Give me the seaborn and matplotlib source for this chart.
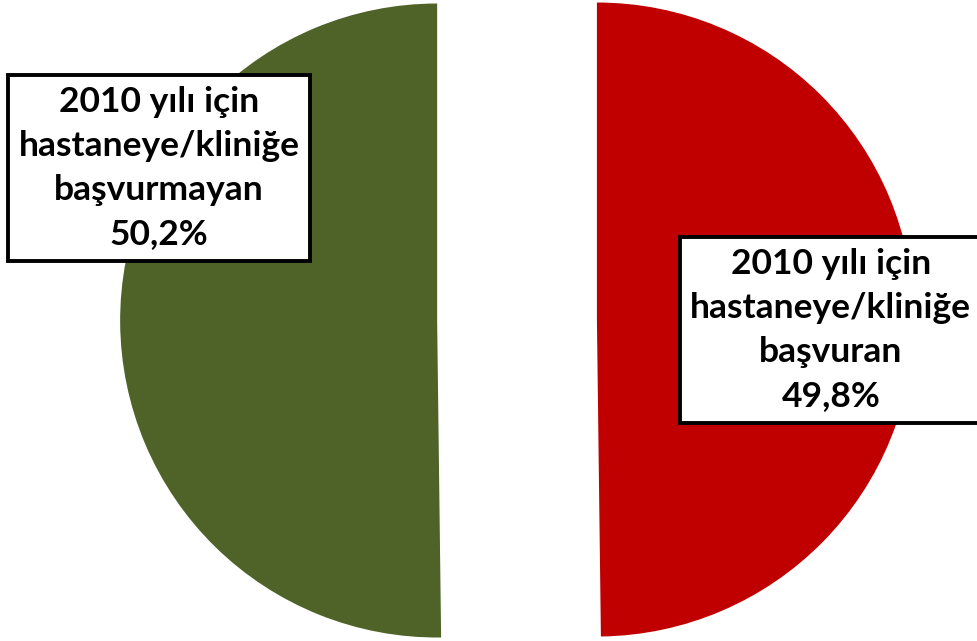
import matplotlib
matplotlib.use("Agg")
import matplotlib.pyplot as plt
import seaborn as sns

categories = ["2010 yılı için\nhastaneye/kliniğe\nbaşvuran", "2010 yılı için\nhastaneye/kliniğe\nbaşvurmayan"]
values = [49.8, 50.2]
value_labels = ["49,8%", "50,2%"]
colors = ["#C00000", "#4F6228"]

sns.set_theme(style="white")
plt.rcParams['font.family'] = ['Lato', 'DejaVu Sans']

fig = plt.figure(figsize=(9.77, 6.41), dpi=100)
ax = fig.add_axes([0, 0, 1, 1])
wedges, _ = ax.pie(values, colors=colors, startangle=90, counterclock=False,
                   explode=[0.252, 0.252], radius=1.0,
                   wedgeprops=dict(linewidth=0))
ax.set_xlim(-1.631, 1.451)
ax.set_ylim(-1.0126, 1.0095)
ax.set_aspect('auto')
ax.axis('off')

label_pos = [(0.99, -0.032), (-1.129, 0.479)]
for cat, vl, (x, y) in zip(categories, value_labels, label_pos):
    ax.text(x, y, cat + "\n" + vl, ha='center', va='center', fontsize=25.5,
            fontweight='bold', linespacing=1.47, color='black',
            bbox=dict(boxstyle='square,pad=0.3', facecolor='white',
                      edgecolor='black', linewidth=2.8))

fig.savefig("out.png", dpi=100)
